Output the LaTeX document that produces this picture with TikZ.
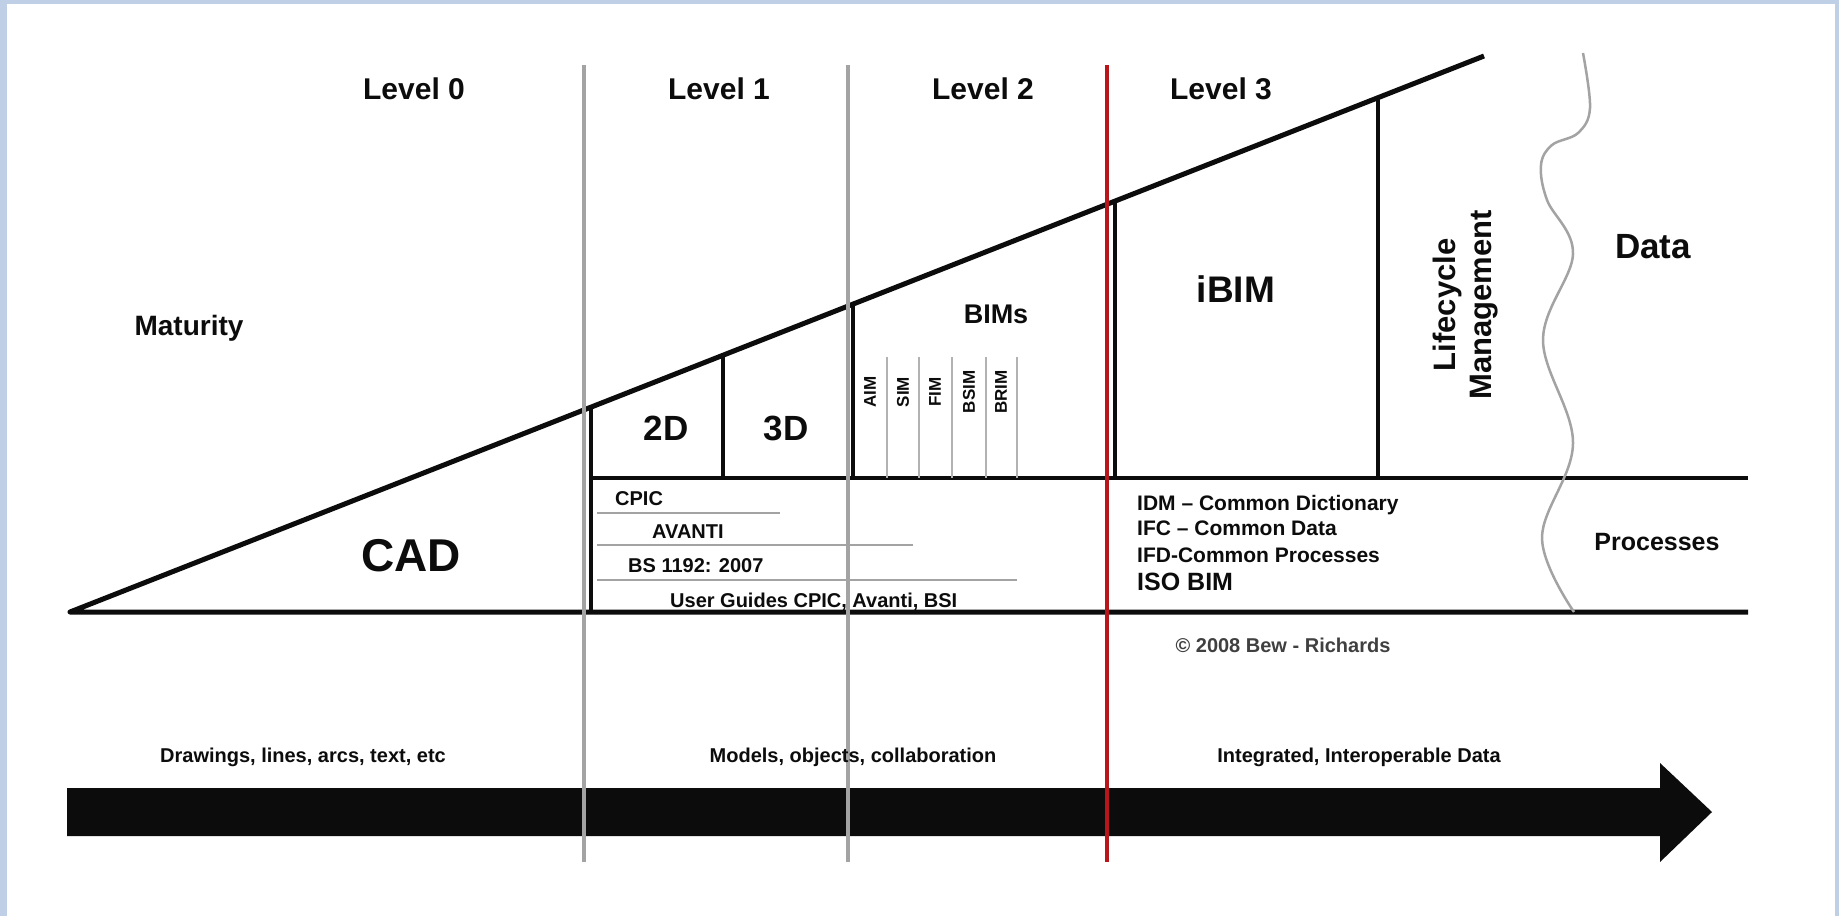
\documentclass[tikz,border=0pt]{standalone}
\usepackage{fontspec}
\setmainfont{Liberation Sans}
\usepackage{tikz}
\usetikzlibrary{calc}

\definecolor{frameblue}{RGB}{190,207,230}
\definecolor{levelgray}{RGB}{163,163,163}
\definecolor{levelred}{RGB}{185,22,28}
\definecolor{thingray}{RGB}{178,178,178}
\definecolor{inkblack}{RGB}{12,12,12}

\begin{document}
\begin{tikzpicture}[x=1pt,y=-1pt,
  txt/.style={inner sep=0pt,text=inkblack,font=\bfseries\fontsize{#1}{#1}\selectfont},
  bimtxt/.style={inner sep=0pt,rotate=90,text=inkblack,
    font=\bfseries\fontsize{17}{17}\selectfont},
  lifetxt/.style={inner sep=0pt,rotate=90,align=center,text=inkblack,
    font=\bfseries\fontsize{31}{36}\selectfont}]
\fill[frameblue] (0,0) rectangle (1839,916);
\fill[white] (7,4) rectangle (1835,916);
\useasboundingbox (0,0) rectangle (1839,916);
\coordinate (tip) at (70,612);
\coordinate (top) at (1484,56);
\coordinate (baseR) at (1748,612);
\coordinate (midL) at (591,478);
\coordinate (midR) at (1748,478);
\coordinate (h1) at ($(tip)!0.3685!(top)$);
\coordinate (h2) at ($(tip)!0.4618!(top)$);
\coordinate (h3) at ($(tip)!0.5537!(top)$);
\coordinate (h4) at ($(tip)!0.7390!(top)$);
\coordinate (h5) at ($(tip)!0.9250!(top)$);
\coordinate (a1) at (67,788);
\coordinate (a2) at (1660,788);
\coordinate (a3) at (1660,763);
\coordinate (a4) at (1712,812);
\coordinate (a5) at (1660,862);
\coordinate (a6) at (1660,836);
\coordinate (a7) at (67,836);
\coordinate (g1t) at (584,65);
\coordinate (g1b) at (584,862);
\coordinate (g2t) at (848,65);
\coordinate (g2b) at (848,862);
\coordinate (r1t) at (1107,65);
\coordinate (r1b) at (1107,862);
\fill[inkblack] (a1) -- (a2) -- (a3) -- (a4) -- (a5) -- (a6) -- (a7) -- cycle;
\draw[line width=5pt,line join=round,inkblack] (top) -- (tip) -- (baseR);
\draw[line width=4pt,inkblack] (midL) -- (midR);
\draw[line width=4pt,inkblack] (h1) -- (h1 |- tip);
\draw[line width=4pt,inkblack] (h2) -- (h2 |- midL);
\draw[line width=4pt,inkblack] (h3) -- (h3 |- midL);
\draw[line width=4pt,inkblack] (h4) -- (h4 |- midL);
\draw[line width=4pt,inkblack] (h5) -- (h5 |- midL);
\draw[line width=2pt,thingray] (887,357) -- (887,478);
\draw[line width=2pt,thingray] (919,357) -- (919,478);
\draw[line width=2pt,thingray] (952,357) -- (952,478);
\draw[line width=2pt,thingray] (986,357) -- (986,478);
\draw[line width=2pt,thingray] (1017,357) -- (1017,478);
\draw[line width=2pt,levelgray] (597,513) -- (780,513);
\draw[line width=2pt,levelgray] (597,545) -- (913,545);
\draw[line width=2pt,levelgray] (597,580) -- (1017,580);
\draw[line width=2.5pt,levelgray] plot[smooth,tension=0.6] coordinates {(1583,53) (1590,108)
  (1578,133) (1552,145) (1541,165) (1547,200) (1573,254) (1543,340) (1573,443)
  (1542,538) (1574,612)};
\draw[line width=4pt,levelgray] (g1t) -- (g1b);
\draw[line width=4pt,levelgray] (g2t) -- (g2b);
\draw[line width=4pt,levelred] (r1t) -- (r1b);
\node[txt=30,anchor=base] (lv0) at (414,99) {Level 0};
\node[txt=30,anchor=base] (lv1) at (719,99) {Level 1};
\node[txt=30,anchor=base] (lv2) at (983,99) {Level 2};
\node[txt=30,anchor=base] (lv3) at (1221,99) {Level 3};
\node[txt=28,anchor=base] (maturity) at (189,335) {Maturity};
\node[txt=46,anchor=base] (cad) at (411,571) {CAD};
\node[txt=35,anchor=base] (twod) at (666,440) {2D};
\node[txt=35,anchor=base] (threed) at (786,440) {3D};
\node[txt=27,anchor=base] (bims) at (996,323) {BIMs};
\node[bimtxt] (aim) at (870,392) {AIM};
\node[bimtxt] (sim) at (903,392) {SIM};
\node[bimtxt] (fim) at (935,392) {FIM};
\node[bimtxt] (bsim) at (969,392) {BSIM};
\node[bimtxt] (brim) at (1001,392) {BRIM};
\node[txt=37,anchor=base] (ibim) at (1236,302) {iBIM};
\node[lifetxt] (life) at (1466,305) {Lifecycle\\Management};
\node[txt=35,anchor=base] (data) at (1653,258) {Data};
\node[txt=25,anchor=base] (proc) at (1657,550) {Processes};
\node[txt=20,anchor=base west] (cpic) at (615,505) {CPIC};
\node[txt=20,anchor=base west] (avanti) at (652,538) {AVANTI};
\node[txt=20,anchor=base west] (bs) at (628,572) {BS 1192: 2007};
\node[txt=20,anchor=base west] (guides) at (670,607) {User Guides CPIC, Avanti, BSI};
\node[txt=21,anchor=base west] (idm) at (1137,510) {IDM – Common Dictionary};
\node[txt=21,anchor=base west] (ifc) at (1137,535) {IFC – Common Data};
\node[txt=21,anchor=base west] (ifd) at (1137,562) {IFD-Common Processes};
\node[txt=25,anchor=base west] (iso) at (1137,590) {ISO BIM};
\node[txt=20,anchor=base,text=black!75] (copy) at (1283,652) {© 2008 Bew - Richards};
\node[txt=20,anchor=base] (draw) at (303,762) {Drawings, lines, arcs, text, etc};
\node[txt=20,anchor=base] (models) at (853,762) {Models, objects, collaboration};
\node[txt=20,anchor=base] (integ) at (1359,762) {Integrated, Interoperable Data};
\end{tikzpicture}
\end{document}
